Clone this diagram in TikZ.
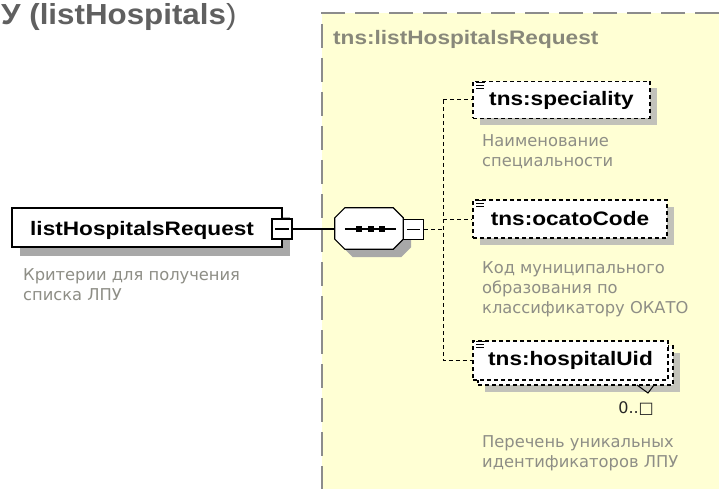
\documentclass[tikz,border=0pt]{standalone}
\usepackage{fontspec}
\setmainfont{Liberation Sans}
\newfontfamily\lab{Liberation Sans}[FakeStretch=1.16]
\newfontfamily\ttl{Liberation Sans}[FakeStretch=1.08]
\newfontfamily\desc{DejaVu Sans}
\usetikzlibrary{calc,shadows}
\definecolor{yel}{HTML}{FFFFD4}
\definecolor{contgray}{HTML}{8C8C8C}
\definecolor{titlegray}{HTML}{606060}
\definecolor{ctitle}{HTML}{88887A}
\definecolor{descgray}{HTML}{8E8E86}
\definecolor{shadw}{HTML}{A8A8A8}
\definecolor{shady}{HTML}{C2C2BA}
\tikzset{
  labfont/.style={font=\lab\fontsize{19.5}{21}\selectfont\bfseries},
  descfont/.style={font=\desc\fontsize{16.3}{20}\selectfont, text=descgray, align=left, inner sep=0},
  mainbox/.style={draw, line width=1.3pt, fill=white, minimum width=270pt, minimum height=39pt, inner sep=0,
    drop shadow={shadow xshift=8pt, shadow yshift=-9pt, opacity=1, fill=shadw}},
  elembox/.style={draw, line width=1.2pt, dash pattern=on 4pt off 3pt, fill=white, inner sep=0, minimum height=37pt, labfont},
  eshadow/.style={drop shadow={shadow xshift=7pt, shadow yshift=-7pt, opacity=1, fill=shady}},
  minusbox/.style={draw, line width=1.2pt, fill=white, minimum size=20pt, inner sep=0},
  conn/.style={line width=1pt, dash pattern=on 4pt off 3pt},
  cont/.style={draw=contgray, line width=1.2pt, dash pattern=on 24pt off 10pt},
}
\newcommand{\elemicon}[1]{%
  \draw[line width=0.9pt] ($(#1.north west)+(4,1.5)$) -- ++(9,0);
  \draw[line width=0.9pt] ($(#1.north west)+(4,4.5)$) -- ++(8,0);
  \draw[line width=0.9pt] ($(#1.north west)+(4,7.5)$) -- ++(8,0);
}
\begin{document}
\begin{tikzpicture}[x=1pt,y=-1pt]
\useasboundingbox (0,0) rectangle (719,489);
\fill[white] (0,0) rectangle (719,489);
% container
\fill[yel] (322,13) rectangle (719,489);
\draw[cont] (719,13) -- (322,13) -- (322,489);
% title
\node[anchor=base west, inner sep=0, text=titlegray, font=\ttl\fontsize{29}{30}\selectfont\bfseries] (title) at (1,25) {У (listHospitals\mdseries)};
\node[anchor=base west, inner sep=0, text=ctitle, labfont] (ctit) at (333,45) {tns:listHospitalsRequest};
% root element
\node[mainbox] (req) at (147,227.5) {};
\node[anchor=base west, inner sep=0, labfont] (reqlab) at (30,235) {listHospitalsRequest};
\node[minusbox] (reqm) at (282,229) {};
\draw[line width=1.2pt] ($(reqm.west)+(4,0)$) -- ($(reqm.east)+(-4,0)$);
\node[descfont, anchor=base west] (reqdesc) at (23,300) {Критерии для получения\\списка ЛПУ};
% sequence
\node[minimum width=68pt, minimum height=41pt, inner sep=0] (seq) at (369,228.5) {};
\fill[shadw] ($(seq.north west)+(18,8)$) -- ($(seq.north east)+(-2,8)$) -- ($(seq.north east)+(8,18)$) -- ($(seq.south east)+(8,-2)$)
  -- ($(seq.south east)+(-2,8)$) -- ($(seq.south west)+(18,8)$) -- ($(seq.south west)+(8,-2)$) -- ($(seq.north west)+(8,18)$) -- cycle;
\draw[line width=1.2pt, fill=white] ($(seq.north west)+(10,0)$) -- ($(seq.north east)+(-10,0)$) -- ($(seq.north east)+(0,10)$) -- ($(seq.south east)+(0,-10)$)
  -- ($(seq.south east)+(-10,0)$) -- ($(seq.south west)+(10,0)$) -- ($(seq.south west)+(0,-10)$) -- ($(seq.north west)+(0,10)$) -- cycle;
\draw[line width=1.2pt] ($(seq.west)+(10,0.5)$) -- ($(seq.east)+(-7,0.5)$);
\foreach \xx in {359,371,382} \fill (\xx-2.7,226.3) rectangle (\xx+2.7,231.7);
\node[minusbox] (seqm) at (413.5,229.5) {};
\draw[line width=1.2pt] ($(seqm.west)+(4,0)$) -- ($(seqm.east)+(-4,0)$);
\draw[line width=1.2pt] (reqm.east) -- (seq.west |- reqm.east);
% children
\node[elembox, eshadow, minimum width=177pt] (spec) at (561.5,100) {tns:speciality};
\elemicon{spec}
\node[descfont, anchor=base west] (specdesc) at (482,167) {Наименование\\специальности};
\node[elembox, eshadow, minimum width=194pt, minimum height=38pt] (ocato) at (570,219) {tns:ocatoCode};
\elemicon{ocato}
\node[descfont, anchor=base west] (ocatodesc) at (482,313) {Код муниципального\\образования по\\классификатору ОКАТО};
\node[elembox, eshadow, minimum width=195pt, minimum height=39pt] (uidback) at (575.5,365.5) {};
\node[elembox, minimum width=195pt, minimum height=39pt] (uid) at (570.5,360.5) {tns:hospitalUid};
\elemicon{uid}
\coordinate (tailA) at (637,385);
\coordinate (tailB) at (648,393);
\coordinate (tailC) at (654,385);
\draw[line width=1pt] (tailA) -- (tailB) -- (tailC);
\node[anchor=base east, inner sep=0, font=\desc\fontsize{16}{18}\selectfont, text=black!85] (mult) at (654,413) {0..□};
\node[descfont, anchor=base west] (uiddesc) at (482,467) {Перечень уникальных\\идентификаторов ЛПУ};
% connectors
\coordinate (vtop) at (443,100);
\coordinate (vbot) at (443,360.5);
\draw[conn] (vtop) -- (spec.west);
\draw[conn] (vtop) -- (vbot) -- (uid.west);
\draw[conn] (ocato.west -| vtop) -- (ocato.west);
\draw[conn] (seqm.east) -- (seqm.east -| vtop);
\end{tikzpicture}
\end{document}
